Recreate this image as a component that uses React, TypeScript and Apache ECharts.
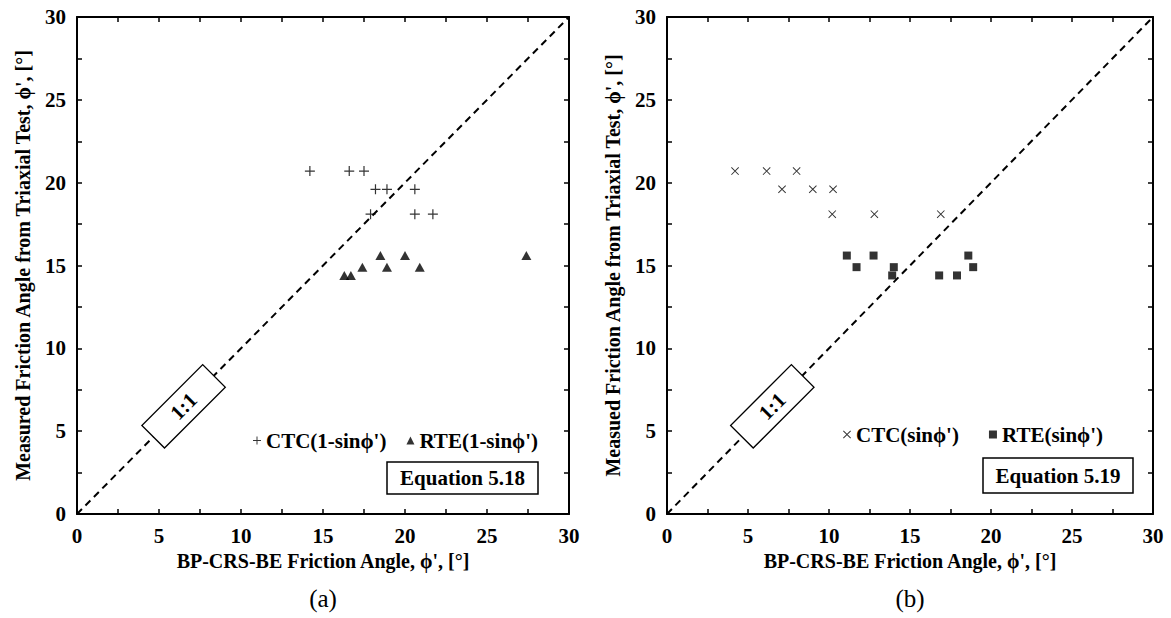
import React, { useEffect, useRef } from "react";
import * as echarts from "echarts";

// ---- data ----
const AXIS_MIN = 0;
const AXIS_MAX = 30;
const MAJOR_STEP = 5;

const ONE_TO_ONE_X = [0, 30];
const ONE_TO_ONE_Y = [0, 30];
const ONE_TO_ONE_LABEL_AT = [6.5, 6.5];

// (a) Equation 5.18
const CTC_A_X = [14.2, 16.6, 17.5, 18.2, 18.9, 20.6, 17.9, 20.6, 21.7];
const CTC_A_Y = [20.7, 20.7, 20.7, 19.6, 19.6, 19.6, 18.1, 18.1, 18.1];
const RTE_A_X = [16.3, 16.7, 17.4, 18.5, 18.9, 20.0, 20.9, 27.4];
const RTE_A_Y = [14.4, 14.4, 14.9, 15.6, 14.9, 15.6, 14.9, 15.6];

// (b) Equation 5.19
const CTC_B_X = [4.2, 6.15, 8.0, 7.1, 9.0, 10.25, 10.2, 12.8, 16.9];
const CTC_B_Y = [20.7, 20.7, 20.7, 19.6, 19.6, 19.6, 18.1, 18.1, 18.1];
const RTE_B_X = [11.1, 12.75, 11.7, 14.0, 13.9, 16.8, 17.9, 18.6, 18.9];
const RTE_B_Y = [15.6, 15.6, 14.9, 14.9, 14.4, 14.4, 14.4, 15.6, 14.9];

const NAMES_A = ["CTC(1-sin\u03d5')", "RTE(1-sin\u03d5')"];
const NAMES_B = ["CTC(sin\u03d5')", "RTE(sin\u03d5')"];
const X_TITLE = "BP-CRS-BE Friction Angle, \u03d5', [\u00b0]";
const Y_TITLE_A = "Measured Friction Angle from Triaxial Test, \u03d5', [\u00b0]";
const Y_TITLE_B = "Measued Friction Angle from Triaxial Test, \u03d5', [\u00b0]";
const EQ_A = "Equation 5.18";
const EQ_B = "Equation 5.19";
const PANEL_A = "(a)";
const PANEL_B = "(b)";

const zip = (xs: number[], ys: number[]) => xs.map((x, i) => [x, ys[i]]);

const FONT = "Liberation Serif";
const PLUS =
  "path://M4.4,0 L5.6,0 L5.6,10 L4.4,10 Z M0,4.4 L10,4.4 L10,5.6 L0,5.6 Z";
const CROSS =
  "path://M0,0.85 L0.85,0 L10,9.15 L9.15,10 Z M9.15,0 L10,0.85 L0.85,10 L0,9.15 Z";

function makeAxis(
  gridIndex: number,
  position: string,
  showLabel: boolean,
  name: string,
  nameGap: number,
  isY: boolean
) {
  return {
    type: "value",
    gridIndex,
    position,
    min: AXIS_MIN,
    max: AXIS_MAX,
    interval: MAJOR_STEP,
    axisLine: { show: true, onZero: false, lineStyle: { color: "#000", width: 2 } },
    axisTick: { show: true, inside: true, length: 5, lineStyle: { color: "#000", width: 1.5 } },
    minorTick: { show: true, splitNumber: 2, length: 5, lineStyle: { color: "#000", width: 1.5 } },
    splitLine: { show: false },
    minorSplitLine: { show: false },
    axisLabel: {
      show: showLabel,
      margin: 11,
      color: "#000",
      fontSize: 21,
      fontWeight: "bold",
      fontFamily: FONT,
    },
    name: name,
    nameLocation: "middle",
    nameGap,
    nameRotate: isY ? 90 : 0,
    nameTextStyle: { color: "#000", fontSize: 20, fontWeight: "bold", fontFamily: FONT },
  };
}

function oneToOneSeries(idx: number) {
  return [
    {
      type: "line",
      xAxisIndex: idx * 2,
      yAxisIndex: idx * 2,
      data: zip(ONE_TO_ONE_X, ONE_TO_ONE_Y),
      showSymbol: false,
      silent: true,
      lineStyle: { color: "#000", width: 2, type: [7, 5] },
      z: 2,
    },
    {
      type: "custom",
      xAxisIndex: idx * 2,
      yAxisIndex: idx * 2,
      data: [ONE_TO_ONE_LABEL_AT],
      silent: true,
      z: 3,
      renderItem: (_p: any, api: any) => {
        const c = api.coord([api.value(0), api.value(1)]);
        return {
          type: "group",
          x: c[0],
          y: c[1],
          rotation: Math.PI / 4,
          children: [
            {
              type: "rect",
              shape: { x: -43, y: -16, width: 86, height: 32 },
              style: { fill: "#fff", stroke: "#000", lineWidth: 1.3 },
            },
            {
              type: "text",
              style: {
                text: "1:1",
                x: 0,
                y: 0,
                align: "center",
                verticalAlign: "middle",
                fontSize: 21,
                fontWeight: "bold",
                fontFamily: FONT,
                fill: "#000",
              },
            },
          ],
        };
      },
    },
  ];
}

export default function App() {
  const ref = useRef<HTMLDivElement>(null);

  useEffect(() => {
    document.body.style.margin = "0";
    if (!ref.current) return;
    const chart = echarts.init(ref.current, null, { renderer: "svg" });

    const legendText = { color: "#000", fontSize: 21, fontWeight: "bold", fontFamily: FONT };

    const option: any = {
      animation: false,
      backgroundColor: "#fff",
      grid: [
        { left: 77, top: 17, width: 492, height: 497 },
        { left: 667, top: 17, width: 486, height: 497 },
      ],
      xAxis: [
        makeAxis(0, "bottom", true, X_TITLE, 35, false),
        makeAxis(0, "top", false, "", 0, false),
        makeAxis(1, "bottom", true, X_TITLE, 35, false),
        makeAxis(1, "top", false, "", 0, false),
      ],
      yAxis: [
        makeAxis(0, "left", true, Y_TITLE_A, 44, true),
        makeAxis(0, "right", false, "", 0, true),
        makeAxis(1, "left", true, Y_TITLE_B, 44, true),
        makeAxis(1, "right", false, "", 0, true),
      ],
      legend: [
        {
          data: [
            { name: NAMES_A[0], icon: PLUS },
            { name: NAMES_A[1], icon: "triangle" },
          ],
          left: 248,
          top: 425,
          itemWidth: 8,
          itemHeight: 8,
          itemGap: 20,
          textStyle: legendText,
          selectedMode: false,
        },
        {
          data: [
            { name: NAMES_B[0], icon: CROSS },
            { name: NAMES_B[1], icon: "rect" },
          ],
          left: 838,
          top: 419,
          itemWidth: 8,
          itemHeight: 8,
          itemGap: 30,
          textStyle: legendText,
          selectedMode: false,
        },
      ],
      series: [
        ...oneToOneSeries(0),
        ...oneToOneSeries(1),
        {
          name: NAMES_A[0],
          type: "scatter",
          xAxisIndex: 0,
          yAxisIndex: 0,
          data: zip(CTC_A_X, CTC_A_Y),
          symbol: PLUS,
          symbolSize: 10,
          itemStyle: { color: "#000" },
          z: 5,
        },
        {
          name: NAMES_A[1],
          type: "scatter",
          xAxisIndex: 0,
          yAxisIndex: 0,
          data: zip(RTE_A_X, RTE_A_Y),
          symbol: "triangle",
          symbolSize: [10, 9],
          itemStyle: { color: "#000" },
          z: 5,
        },
        {
          name: NAMES_B[0],
          type: "scatter",
          xAxisIndex: 2,
          yAxisIndex: 2,
          data: zip(CTC_B_X, CTC_B_Y),
          symbol: CROSS,
          symbolSize: 8,
          itemStyle: { color: "#000" },
          z: 5,
        },
        {
          name: NAMES_B[1],
          type: "scatter",
          xAxisIndex: 2,
          yAxisIndex: 2,
          data: zip(RTE_B_X, RTE_B_Y),
          symbol: "rect",
          symbolSize: 8,
          itemStyle: { color: "#000" },
          z: 5,
        },
      ],
      graphic: [
        {
          type: "rect",
          shape: { x: 387, y: 462, width: 151, height: 32 },
          style: { fill: "#fff", stroke: "#000", lineWidth: 1.5 },
          z: 10,
        },
        {
          type: "text",
          x: 462.5,
          y: 478,
          style: {
            text: EQ_A,
            align: "center",
            verticalAlign: "middle",
            fontSize: 21,
            fontWeight: "bold",
            fontFamily: FONT,
            fill: "#000",
          },
          z: 11,
        },
        {
          type: "rect",
          shape: { x: 983, y: 458, width: 150, height: 35 },
          style: { fill: "#fff", stroke: "#000", lineWidth: 1.5 },
          z: 10,
        },
        {
          type: "text",
          x: 1058,
          y: 475.5,
          style: {
            text: EQ_B,
            align: "center",
            verticalAlign: "middle",
            fontSize: 21,
            fontWeight: "bold",
            fontFamily: FONT,
            fill: "#000",
          },
          z: 11,
        },
        {
          type: "text",
          x: 323,
          y: 598,
          style: {
            text: PANEL_A,
            align: "center",
            verticalAlign: "middle",
            fontSize: 25,
            fontFamily: FONT,
            fill: "#000",
          },
        },
        {
          type: "text",
          x: 910,
          y: 598,
          style: {
            text: PANEL_B,
            align: "center",
            verticalAlign: "middle",
            fontSize: 25,
            fontFamily: FONT,
            fill: "#000",
          },
        },
      ],
    };

    chart.setOption(option);
    return () => chart.dispose();
  }, []);

  return <div ref={ref} style={{ width: 1171, height: 618 }} />;
}
